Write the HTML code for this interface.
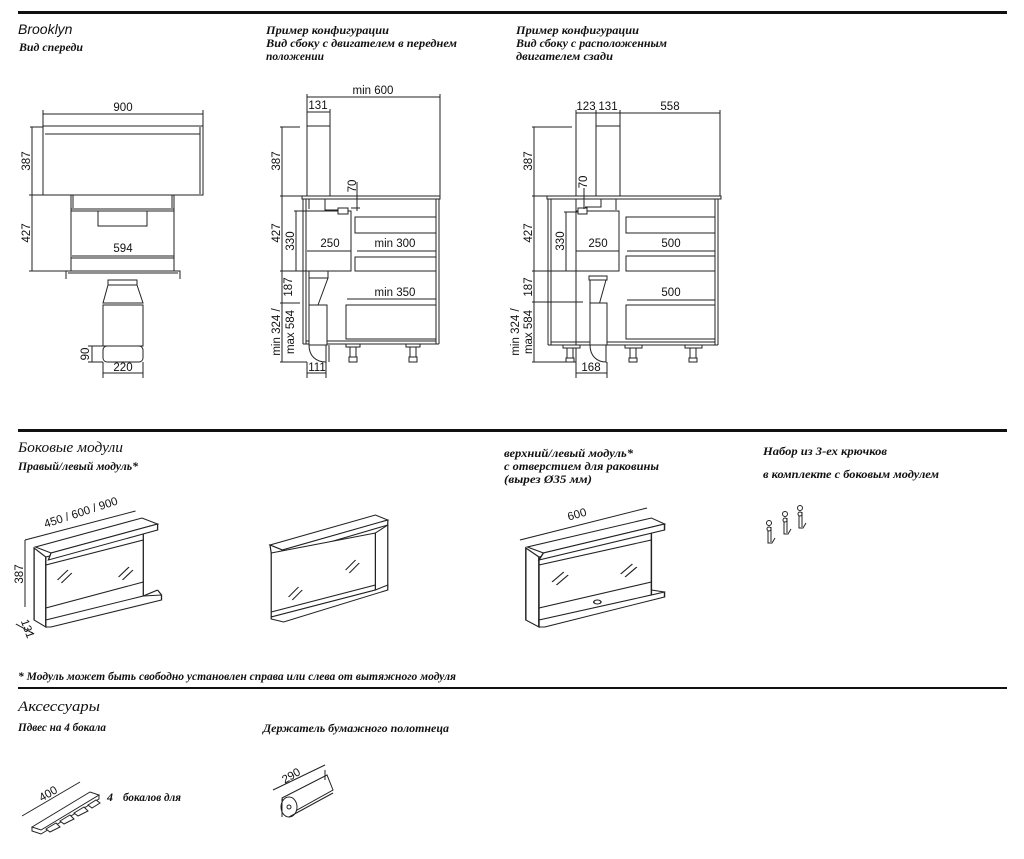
<!DOCTYPE html>
<html><head><meta charset="utf-8"><style>
html,body{margin:0;padding:0;background:#fff;}
svg{display:block}
.h{font-family:"Liberation Serif","DejaVu Serif",serif;font-style:italic;font-weight:bold;font-size:12px;fill:#111}
.t{font-family:"Liberation Serif","DejaVu Serif",serif;font-style:italic;font-size:15px;fill:#111}
.d{font-family:"Liberation Sans","DejaVu Sans",sans-serif;font-size:11.5px;fill:#111}
.l{fill:none;stroke:#222;stroke-width:1}
.f{fill:#fff;stroke:#222;stroke-width:1}
</style></head><body>
<svg width="1024" height="859" viewBox="0 0 1024 859" xmlns="http://www.w3.org/2000/svg">
<!-- rules -->
<rect x="18" y="11" width="989" height="3" fill="#111"/>
<rect x="18" y="429" width="989" height="3" fill="#111"/>
<rect x="18" y="687" width="989" height="2" fill="#111"/>

<!-- headings -->
<text x="18" y="34" style="font-family:'Liberation Sans',sans-serif;font-style:italic;font-size:14px;fill:#111">Brooklyn</text>
<text x="19" y="51" class="h" textLength="64" lengthAdjust="spacingAndGlyphs">Вид спереди</text>
<text x="266" y="34" class="h" textLength="123" lengthAdjust="spacingAndGlyphs">Пример конфигурации</text>
<text x="266" y="47" class="h" textLength="191" lengthAdjust="spacingAndGlyphs">Вид сбоку с двигателем в переднем</text>
<text x="266" y="60" class="h" textLength="58" lengthAdjust="spacingAndGlyphs">положении</text>
<text x="516" y="34" class="h" textLength="123" lengthAdjust="spacingAndGlyphs">Пример конфигурации</text>
<text x="516" y="47" class="h" textLength="151" lengthAdjust="spacingAndGlyphs">Вид сбоку с расположенным</text>
<text x="516" y="60" class="h" textLength="97" lengthAdjust="spacingAndGlyphs">двигателем сзади</text>

<text x="18" y="452" class="t" textLength="105" lengthAdjust="spacingAndGlyphs">Боковые модули</text>
<text x="18" y="470" class="h" textLength="120" lengthAdjust="spacingAndGlyphs">Правый/левый модуль*</text>
<text x="504" y="457" class="h" textLength="129" lengthAdjust="spacingAndGlyphs">верхний/левый модуль*</text>
<text x="504" y="470" class="h" textLength="155" lengthAdjust="spacingAndGlyphs">с отверстием для раковины</text>
<text x="504" y="483" class="h" textLength="88" lengthAdjust="spacingAndGlyphs">(вырез Ø35 мм)</text>
<text x="763" y="455" class="h" textLength="124" lengthAdjust="spacingAndGlyphs">Набор из 3-ех крючков</text>
<text x="763" y="478" class="h" textLength="176" lengthAdjust="spacingAndGlyphs">в комплекте с боковым модулем</text>
<text x="18" y="680" class="h" textLength="438" lengthAdjust="spacingAndGlyphs">*  Модуль может быть свободно установлен справа или слева от вытяжного модуля</text>
<text x="18" y="711" class="t" textLength="82" lengthAdjust="spacingAndGlyphs">Аксессуары</text>
<text x="18" y="731" class="h" textLength="88" lengthAdjust="spacingAndGlyphs">Пдвес на 4 бокала</text>
<text x="263" y="732" class="h" textLength="186" lengthAdjust="spacingAndGlyphs">Держатель бумажного полотнеца</text>

<!-- ===== FRONT VIEW ===== -->
<g>
<line x1="43" y1="114" x2="203" y2="114" class="l"/>
<line x1="43" y1="110" x2="43" y2="126" class="l"/><line x1="203" y1="110" x2="203" y2="126" class="l"/>
<text x="123" y="111" class="d" text-anchor="middle">900</text>
<rect x="43" y="126" width="160" height="69" class="f"/>
<line x1="45" y1="134" x2="200" y2="134" class="l"/><line x1="200" y1="127" x2="200" y2="194" class="l"/>
<line x1="30" y1="127" x2="43" y2="127" class="l"/><line x1="32" y1="127" x2="32" y2="271" class="l"/>
<line x1="29" y1="195" x2="72" y2="195" class="l"/><line x1="29" y1="271" x2="66" y2="271" class="l"/>
<text class="d" transform="translate(30,161) rotate(-90)" text-anchor="middle">387</text>
<text class="d" transform="translate(30,233) rotate(-90)" text-anchor="middle">427</text>
<line x1="71" y1="195" x2="71" y2="271" class="l"/><line x1="174" y1="195" x2="174" y2="271" class="l"/>
<line x1="73" y1="195" x2="73" y2="208" class="l"/><line x1="172" y1="195" x2="172" y2="208" class="l"/>
<line x1="71" y1="209" x2="174" y2="209" class="l"/><line x1="71" y1="211" x2="174" y2="211" class="l"/>
<rect x="98" y="211" width="49" height="15" class="f"/>
<line x1="72" y1="256" x2="174" y2="256" class="l"/>
<line x1="71" y1="258" x2="174" y2="258" class="l"/>
<text x="123" y="252" class="d" text-anchor="middle">594</text>
<path d="M66,279V271H180V279" class="l"/><line x1="68" y1="273" x2="178" y2="273" class="l"/>
<path d="M108,280H137V285H108z" class="f"/>
<path d="M108,285L103,303H143L137,285" class="l"/>
<rect x="103" y="305" width="40" height="41" class="f"/>
<rect x="103" y="346" width="40" height="16" rx="4" class="f"/>
<line x1="88" y1="346" x2="103" y2="346" class="l"/><line x1="88" y1="362" x2="103" y2="362" class="l"/>
<line x1="92" y1="346" x2="92" y2="362" class="l"/>
<text class="d" transform="translate(89,354) rotate(-90)" text-anchor="middle">90</text>
<line x1="103" y1="362" x2="103" y2="378" class="l"/><line x1="143" y1="362" x2="143" y2="378" class="l"/>
<line x1="103" y1="373" x2="143" y2="373" class="l"/>
<text x="123" y="371" class="d" text-anchor="middle">220</text>
</g>

<!-- ===== SIDE VIEW 1 ===== -->
<g>
<line x1="307" y1="97" x2="440" y2="97" class="l"/>
<line x1="307" y1="94" x2="307" y2="126" class="l"/><line x1="440" y1="94" x2="440" y2="196" class="l"/>
<text x="373" y="94" class="d" text-anchor="middle">min 600</text>
<line x1="307" y1="112" x2="330" y2="112" class="l"/><line x1="330" y1="109" x2="330" y2="126" class="l"/>
<text x="318" y="109" class="d" text-anchor="middle">131</text>
<rect x="307" y="126" width="23" height="70" class="f"/>
<rect x="302" y="196" width="138" height="3" class="f"/>
<line x1="303" y1="199" x2="303" y2="344" class="l"/><line x1="306" y1="199" x2="306" y2="344" class="l"/>
<line x1="436" y1="199" x2="436" y2="344" class="l"/><line x1="439" y1="199" x2="439" y2="344" class="l"/>
<line x1="306" y1="341" x2="436" y2="341" class="l"/><line x1="303" y1="344" x2="439" y2="344" class="l"/>
<line x1="280" y1="127" x2="300" y2="127" class="l"/><line x1="282" y1="127" x2="282" y2="362" class="l"/>
<line x1="280" y1="196" x2="302" y2="196" class="l"/><line x1="280" y1="271" x2="307" y2="271" class="l"/>
<line x1="280" y1="303" x2="300" y2="303" class="l"/><line x1="280" y1="362" x2="307" y2="362" class="l"/>
<line x1="296" y1="211" x2="296" y2="271" class="l"/><line x1="294" y1="211" x2="307" y2="211" class="l"/>
<text class="d" transform="translate(280,161) rotate(-90)" text-anchor="middle">387</text>
<text class="d" transform="translate(280,233) rotate(-90)" text-anchor="middle">427</text>
<text class="d" transform="translate(294,241) rotate(-90)" text-anchor="middle">330</text>
<text class="d" transform="translate(292,287) rotate(-90)" text-anchor="middle">187</text>
<text class="d" transform="translate(280,332) rotate(-90)" text-anchor="middle">min 324 /</text>
<text class="d" transform="translate(294,332) rotate(-90)" text-anchor="middle">max 584</text>
<path d="M307,211H351V271H307" class="l"/>
<path d="M309,199V209M325,199V210H338" class="l"/>
<rect x="338" y="208" width="10" height="6" class="f"/>
<line x1="357" y1="182" x2="357" y2="211" class="l"/><line x1="351" y1="208" x2="360" y2="208" class="l"/>
<text class="d" transform="translate(356,186) rotate(-90)" text-anchor="middle">70</text>
<line x1="307" y1="251" x2="351" y2="251" class="l"/>
<text x="330" y="247" class="d" text-anchor="middle">250</text>
<rect x="355" y="217" width="81" height="16" class="f"/>
<rect x="355" y="257" width="81" height="14" class="f"/>
<line x1="357" y1="251" x2="436" y2="251" class="l"/>
<text x="395" y="247" class="d" text-anchor="middle">min 300</text>
<line x1="347" y1="299" x2="436" y2="299" class="l"/>
<text x="395" y="296" class="d" text-anchor="middle">min 350</text>
<rect x="346" y="305" width="90" height="34" class="f"/>
<path d="M309,271H328V278H309z" class="f"/>
<path d="M309,278V305M328,278L318,305" class="l"/>
<rect x="309" y="305" width="18" height="40" class="f"/>
<path d="M309,345H326V362C316,362 309,356 309,345" class="f"/>
<line x1="329" y1="345" x2="329" y2="362" class="l"/>
<path d="M346,344h14v3h-14zM350,347h6v10h-6zM349,357h8v5h-8z" class="f"/>
<path d="M406,344h14v3h-14zM410,347h6v10h-6zM409,357h8v5h-8z" class="f"/>
<line x1="307" y1="362" x2="307" y2="378" class="l"/><line x1="326" y1="362" x2="326" y2="378" class="l"/>
<line x1="307" y1="373" x2="326" y2="373" class="l"/>
<text x="317" y="371" class="d" text-anchor="middle">111</text>
</g>

<!-- ===== SIDE VIEW 2 ===== -->
<g>
<line x1="576" y1="113" x2="720" y2="113" class="l"/>
<line x1="576" y1="110" x2="576" y2="378" class="l"/><line x1="596" y1="110" x2="596" y2="126" class="l"/>
<line x1="620" y1="110" x2="620" y2="126" class="l"/><line x1="720" y1="110" x2="720" y2="196" class="l"/>
<text x="586" y="110" class="d" text-anchor="middle">123</text>
<text x="608" y="110" class="d" text-anchor="middle">131</text>
<text x="670" y="110" class="d" text-anchor="middle">558</text>
<rect x="596" y="126" width="24" height="70" class="f"/>
<rect x="547" y="196" width="174" height="3" class="f"/>
<line x1="548" y1="199" x2="548" y2="345" class="l"/><line x1="551" y1="199" x2="551" y2="345" class="l"/>
<line x1="715" y1="199" x2="715" y2="345" class="l"/><line x1="718" y1="199" x2="718" y2="345" class="l"/>
<line x1="551" y1="342" x2="715" y2="342" class="l"/><line x1="548" y1="345" x2="718" y2="345" class="l"/>
<line x1="532" y1="127" x2="572" y2="127" class="l"/><line x1="534" y1="127" x2="534" y2="362" class="l"/>
<line x1="532" y1="196" x2="547" y2="196" class="l"/><line x1="532" y1="271" x2="576" y2="271" class="l"/>
<line x1="532" y1="302" x2="583" y2="302" class="l"/><line x1="532" y1="362" x2="576" y2="362" class="l"/>
<line x1="566" y1="212" x2="566" y2="271" class="l"/><line x1="564" y1="212" x2="578" y2="212" class="l"/>
<text class="d" transform="translate(532,161) rotate(-90)" text-anchor="middle">387</text>
<text class="d" transform="translate(532,233) rotate(-90)" text-anchor="middle">427</text>
<text class="d" transform="translate(564,241) rotate(-90)" text-anchor="middle">330</text>
<text class="d" transform="translate(532,287) rotate(-90)" text-anchor="middle">187</text>
<text class="d" transform="translate(519,332) rotate(-90)" text-anchor="middle">min 324 /</text>
<text class="d" transform="translate(532,332) rotate(-90)" text-anchor="middle">max 584</text>
<path d="M576,211H619V271H576" class="l"/>
<path d="M585,207H601V199M616,199V210" class="l"/>
<rect x="578" y="208" width="9" height="6" class="f"/>
<line x1="584" y1="188" x2="584" y2="209" class="l"/>
<text class="d" transform="translate(587,182) rotate(-90)" text-anchor="middle">70</text>
<line x1="576" y1="251" x2="619" y2="251" class="l"/>
<text x="598" y="247" class="d" text-anchor="middle">250</text>
<rect x="626" y="217" width="89" height="16" class="f"/>
<rect x="626" y="256" width="89" height="15" class="f"/>
<line x1="627" y1="251" x2="715" y2="251" class="l"/>
<text x="671" y="247" class="d" text-anchor="middle">500</text>
<line x1="627" y1="300" x2="715" y2="300" class="l"/>
<text x="671" y="296" class="d" text-anchor="middle">500</text>
<rect x="626" y="305" width="89" height="34" class="f"/>
<path d="M589,276H607V280H589z" class="f"/>
<path d="M590,280V305M606,280L599,305" class="l"/>
<rect x="590" y="303" width="17" height="42" class="f"/>
<path d="M590,345H606V362C597,362 590,356 590,345" class="f"/>
<path d="M563,345h17v3h-17zM567,348h6v10h-6zM566,358h8v4h-8z" class="f"/>
<path d="M625,345h17v3h-17zM630,348h6v10h-6zM629,358h8v4h-8z" class="f"/>
<path d="M685,345h17v3h-17zM690,348h6v10h-6zM689,358h8v4h-8z" class="f"/>
<line x1="607" y1="362" x2="607" y2="378" class="l"/>
<line x1="576" y1="373" x2="607" y2="373" class="l"/>
<text x="591" y="371" class="d" text-anchor="middle">168</text>
</g>

<!-- ===== MODULES ===== -->
<!-- module 1 -->
<g transform="translate(-7.5,0) scale(1.3,1)">
<line x1="25" y1="540" x2="110" y2="511" class="l"/>
<polygon points="32,548 41,557 41,627 32,620" class="f"/>
<polygon points="41,557 116,532 116,596 41,622" class="f"/>
<polygon points="33,547 115,518 127,524 45,553" class="f"/>
<polygon points="45,553 127,524 127,530 43,560" class="f"/>
<line x1="41" y1="565" x2="116" y2="540" class="l"/>
<polygon points="41,620 116,596 130,595 130,600 45,627 41,627" class="f"/>
<line x1="116" y1="596" x2="127" y2="590" class="l"/><line x1="127" y1="590" x2="130" y2="595" class="l"/>
<line x1="41" y1="608" x2="116" y2="582" class="l"/>
<path d="M50,580l8,-10M53,583l8,-10M97,577l8,-10M100,580l8,-10" class="l" stroke-width="0.7"/>
<line x1="18" y1="624" x2="32" y2="634" class="l"/>
</g>
<text class="d" transform="translate(82,516) rotate(-18)" text-anchor="middle">450 / 600 / 900</text>
<line x1="25" y1="540" x2="25" y2="607" class="l"/>
<text class="d" transform="translate(23,574) rotate(-90)" text-anchor="middle">387</text>
<text class="d" transform="translate(24,630) rotate(70)" text-anchor="middle">131</text>
<!-- module 2 -->
<g transform="translate(13.3,0) scale(1.24,1)">
<polygon points="207,545 292,515 302,520 217,550" class="f"/>
<polygon points="207,545 217,550 217,556 208,553" class="f"/>
<polygon points="217,550 302,520 302,525 217,556" class="f"/>
<polygon points="208,553 292,533 292,590 208,617" class="f"/>
<line x1="292" y1="533" x2="302" y2="525" class="l"/><line x1="302" y1="525" x2="302" y2="585" class="l"/>
<polygon points="208,617 292,590 302,585 302,590 218,622 208,619" class="f"/>
<line x1="208" y1="612" x2="292" y2="585" class="l"/>
<path d="M222,597l8,-10M225,600l8,-10M268,570l8,-10M271,573l8,-10" class="l" stroke-width="0.7"/>
</g>
<!-- module 3 -->
<g transform="translate(-68.4,0) scale(1.46,1)">
<line x1="403" y1="540" x2="490" y2="508" class="l"/>
<polygon points="407,548 416,557 416,627 407,620" class="f"/>
<polygon points="416,557 493,532 493,595 416,622" class="f"/>
<polygon points="408,547 493,518 502,524 419,553" class="f"/>
<polygon points="419,553 502,524 502,530 416,560" class="f"/>
<line x1="416" y1="565" x2="493" y2="540" class="l"/>
<polygon points="416,620 493,595 502,592 502,597 420,627 416,627" class="f"/>
<line x1="493" y1="590" x2="502" y2="592" class="l"/>
<line x1="416" y1="608" x2="493" y2="582" class="l"/>
<ellipse cx="456" cy="602" rx="2.5" ry="2" class="l"/>
<path d="M425,582l8,-10M428,585l8,-10M472,574l8,-10M475,577l8,-10" class="l" stroke-width="0.7"/>
</g>
<text class="d" transform="translate(578,518) rotate(-16)" text-anchor="middle">600</text>
<!-- hooks -->
<g class="l" stroke-width="1.3">
<path d="M768,527v16h4l3,-5M771,527v15"/><circle cx="769" cy="523" r="2.5" class="f"/><circle cx="769" cy="529" r="2" class="f"/>
<path d="M784,518v16h4l3,-5M787,518v15"/><circle cx="785" cy="514" r="2.5" class="f"/><circle cx="785" cy="520" r="2" class="f"/>
<path d="M799,512v16h4l3,-5M802,512v15"/><circle cx="800" cy="508" r="2.5" class="f"/><circle cx="800" cy="514" r="2" class="f"/>
</g>

<!-- ===== ACCESSORIES ===== -->
<g>
<line x1="22" y1="816" x2="80" y2="782" class="l"/>
<text class="d" transform="translate(50,797) rotate(-30)" text-anchor="middle">400</text>
<polygon points="32,827 90,792 99,795 41,830" class="f"/>
<path d="M32,827v4l9,3l58,-35v-4" class="l"/>
<polygon points="46,829 56,823 60,827 50,832" class="f"/>
<polygon points="60,821 70,815 74,819 64,824" class="f"/>
<polygon points="74,813 84,807 88,811 78,816" class="f"/>
<polygon points="88,805 96,800 100,803 92,808" class="f"/>
<text x="107" y="801" class="h">4</text>
<text x="123" y="801" class="h" textLength="58" lengthAdjust="spacingAndGlyphs">бокалов для</text>
</g>
<g>
<line x1="273" y1="790" x2="325" y2="765" class="l"/>
<text class="d" transform="translate(293,779) rotate(-30)" text-anchor="middle">290</text>
<polygon points="282,798 327,775 333,790 288,815" class="f"/>
<ellipse cx="289" cy="807" rx="8" ry="10" class="f"/>
<circle cx="289" cy="807" r="2" class="l"/>
<path d="M282,799v18M325,770v10" class="l" stroke-width="2"/>
<line x1="289" y1="817" x2="333" y2="793" class="l"/>
</g>
</svg>
</body></html>
